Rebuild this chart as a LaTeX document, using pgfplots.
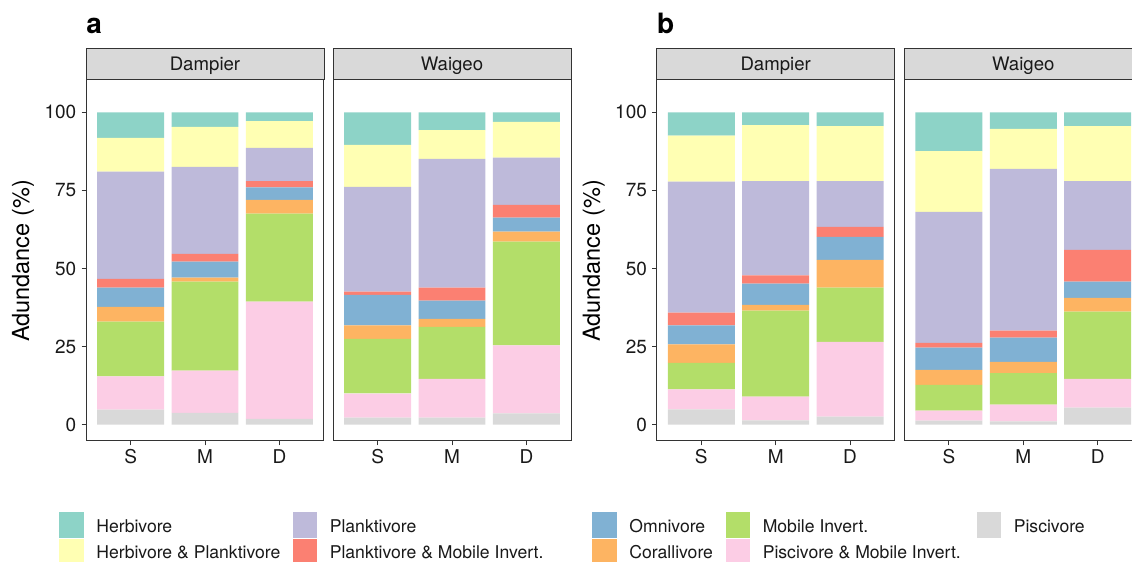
\documentclass[border=0pt]{standalone}
\usepackage{pgfplots}
\pgfplotsset{compat=1.18}
\usepackage{pgfplotstable}
\usepackage{fontspec}
\setmainfont{TeX Gyre Heros}
\definecolor{cH}{HTML}{8DD3C7}
\definecolor{cHP}{HTML}{FFFFB3}
\definecolor{cPl}{HTML}{BEBADA}
\definecolor{cPlM}{HTML}{FB8072}
\definecolor{cO}{HTML}{80B1D3}
\definecolor{cC}{HTML}{FDB462}
\definecolor{cMI}{HTML}{B3DE69}
\definecolor{cPM}{HTML}{FCCDE5}
\definecolor{cP}{HTML}{D9D9D9}
\definecolor{frame}{HTML}{333333}
\definecolor{stripfill}{HTML}{D9D9D9}

% columns: x, Piscivore, Piscivore & Mobile Invert., Mobile Invert., Corallivore,
% Omnivore, Planktivore & Mobile Invert., Planktivore, Herbivore & Planktivore, Herbivore
\pgfplotstableread{
x P PM MI C O PlM Pl HP H
1 4.8 10.7 17.5 4.7 6.2 2.8 34.3 10.8 8.2
2 3.8 13.5 28.5 1.3 5.1 2.5 27.8 12.8 4.7
3 1.9 37.5 28.2 4.4 4.0 2.0 10.6 8.6 2.8
}\aD
\pgfplotstableread{
x P PM MI C O PlM Pl HP H
1 2.3 7.7 17.5 4.3 9.8 1.0 33.5 13.5 10.4
2 2.3 12.4 16.6 2.6 5.8 4.2 41.2 9.2 5.7
3 3.6 21.8 33.2 3.2 4.5 4.1 15.1 11.4 3.1
}\aW
\pgfplotstableread{
x P PM MI C O PlM Pl HP H
1 4.9 6.4 8.5 5.9 6.1 4.1 41.9 14.7 7.5
2 1.4 7.6 27.5 1.9 6.8 2.6 30.2 17.9 4.1
3 2.6 23.9 17.4 8.9 7.3 3.2 14.7 17.6 4.4
}\bD
\pgfplotstableread{
x P PM MI C O PlM Pl HP H
1 1.3 3.2 8.3 4.8 7.1 1.5 41.9 19.5 12.4
2 1.1 5.3 10.1 3.6 7.8 2.2 51.8 12.8 5.3
3 5.5 9.2 21.5 4.4 5.2 10.2 22.0 17.6 4.4
}\bW

\newcommand{\stackbars}[1]{%
  \addplot[fill=cP,draw=none] table[x=x,y=P]{#1};
  \addplot[fill=cPM,draw=none] table[x=x,y=PM]{#1};
  \addplot[fill=cMI,draw=none] table[x=x,y=MI]{#1};
  \addplot[fill=cC,draw=none] table[x=x,y=C]{#1};
  \addplot[fill=cO,draw=none] table[x=x,y=O]{#1};
  \addplot[fill=cPlM,draw=none] table[x=x,y=PlM]{#1};
  \addplot[fill=cPl,draw=none] table[x=x,y=Pl]{#1};
  \addplot[fill=cHP,draw=none] table[x=x,y=HP]{#1};
  \addplot[fill=cH,draw=none] table[x=x,y=H]{#1};
}

\pgfplotsset{facet/.style={
  scale only axis, width=119pt, height=180.5pt,
  anchor=south west,
  xmin=0.4, xmax=3.6, ymin=-5.2, ymax=110.33,
  ybar stacked, bar width=0.9,
  xtick={1,2,3}, xticklabels={S,M,D},
  ytick={0,25,50,75,100},
  tick align=outside, tick pos=left,
  major tick length=2.2pt,
  axis line style={frame, line width=0.5pt},
  every tick/.style={frame, line width=0.5pt},
  tick label style={font=\fontsize{9.5}{10}\selectfont, text=black!90},
  yticklabel style={inner sep=0pt, xshift=-2.5pt},
  xticklabel style={inner sep=0pt, yshift=-2pt},
  /pgf/number format/assume math mode=true,
}}

\begin{document}
\begin{tikzpicture}
% panel a
\begin{axis}[facet, at={(43pt,60.5pt)}]
\stackbars{\aD}
\end{axis}
\begin{axis}[facet, at={(166.5pt,60.5pt)}, ytick=\empty]
\stackbars{\aW}
\end{axis}
% panel b
\begin{axis}[facet, at={(328.35pt,60.5pt)}]
\stackbars{\bD}
\end{axis}
\begin{axis}[facet, at={(452.15pt,60.5pt)}, ytick=\empty]
\stackbars{\bW}
\end{axis}

% strips
\foreach \xl/\lab in {43/Dampier,166.5/Waigeo,328.35/Dampier,452.15/Waigeo}{
  \draw[frame, line width=0.5pt, fill=stripfill] (\xl pt,241pt) rectangle (\xl pt+119pt,256.65pt);
  \node[anchor=base, inner sep=0pt, font=\fontsize{9.3}{10}\selectfont, text=black!90] at (\xl pt+59.5pt,245.5pt) {\lab};
}

% panel letters
\node[anchor=base west, inner sep=0pt, font=\fontsize{14}{16}\selectfont\bfseries] at (43pt,264.35pt) {a};
\node[anchor=base west, inner sep=0pt, font=\fontsize{14}{16}\selectfont\bfseries] at (328.35pt,264.35pt) {b};

% y labels
\node[rotate=90, inner sep=0pt, font=\fontsize{11.75}{13}\selectfont] at (11.5pt,150.5pt) {Adundance (\%)};
\node[rotate=90, inner sep=0pt, font=\fontsize{11.75}{13}\selectfont] at (296.85pt,150.5pt) {Adundance (\%)};

% legend
\foreach \kx/\ky/\col/\lab in {
  29.65/1/cH/Herbivore, 29.65/2/cHP/Herbivore \& Planktivore,
  146.35/1/cPl/Planktivore, 146.35/2/cPlM/Planktivore \& Mobile Invert.,
  296.15/1/cO/Omnivore, 296.15/2/cC/Corallivore,
  362.85/1/cMI/Mobile Invert., 362.85/2/cPM/Piscivore \& Mobile Invert.,
  488.35/1/cP/Piscivore}{
  \pgfmathsetmacro{\ktop}{\ky==1 ? 25 : 11.65}
  \pgfmathsetmacro{\kbase}{\ky==1 ? 14.85 : 1.5}
  \fill[\col] (\kx pt,\ktop pt) rectangle (\kx pt+12.35pt,\ktop pt-12.85pt);
  \node[anchor=base west, inner sep=0pt, font=\fontsize{8.8}{10}\selectfont, text=black!90] at (\kx pt+18.35pt,\kbase pt) {\lab};
}

\pgfresetboundingbox
\path[use as bounding box] (0,0) rectangle (566pt,281pt);
\end{tikzpicture}
\end{document}
